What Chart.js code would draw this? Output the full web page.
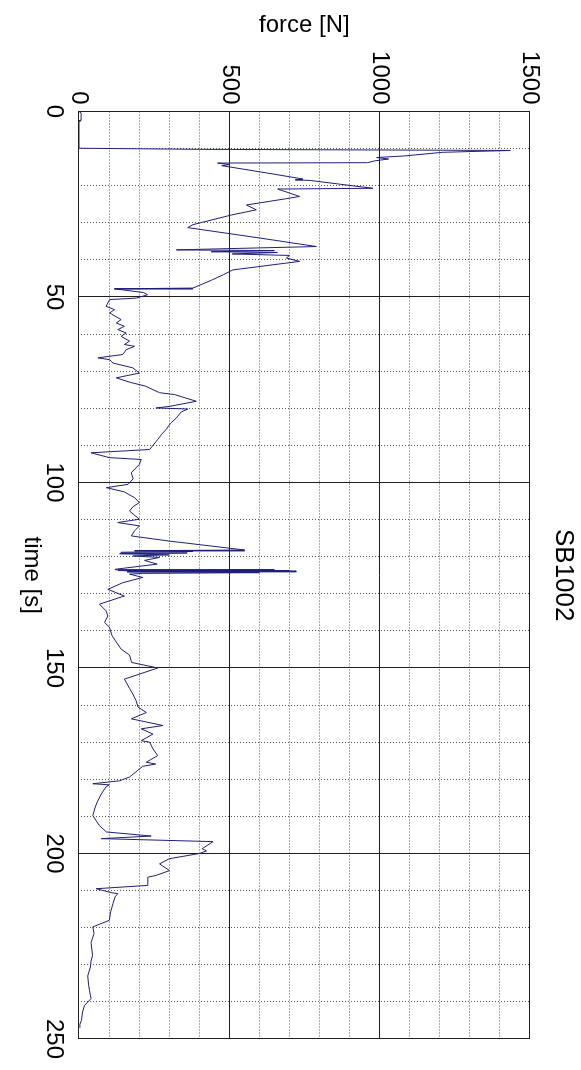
<!DOCTYPE html>
<html>
<head>
<meta charset="utf-8">
<script src="https://cdn.jsdelivr.net/npm/chart.js@4.4.1/dist/chart.umd.min.js"></script>
<style>
  html, body { margin: 0; padding: 0; background: #fff; overflow: hidden; }
  body { width: 581px; height: 1070px; position: relative; }
  /* the plot is laid out landscape and turned a quarter clockwise */
  #sheet {
    position: absolute; left: 0; top: 0;
    width: 1070px; height: 581px;
    transform-origin: 0 0;
    transform: translateX(581px) rotate(90deg);
  }
</style>
</head>
<body>
<div id="sheet"><canvas id="forceChart" width="1070" height="581"></canvas></div>
<script>
const time = [
    0, 0.4, 2.3, 2.5, 9.9, 10.2, 10.5, 11.0, 12.0, 12.4, 12.8, 13.3, 13.8, 13.9, 14.3, 14.6,
    16.5, 18.2, 18.4, 18.6, 20.7, 20.9, 22.9, 23.5, 25.2, 26.5, 27.9, 30.5, 31.3, 34.1,
    36.4, 37.3, 37.5, 37.8, 38.0, 38.4, 38.8, 39.5, 40.4, 42.7, 44, 45.5, 47.6, 47.8,
    48.8, 49.4, 50.3, 50.7, 52.5, 53.4, 54.3, 56.1, 57, 57.9, 58.8, 59.7, 60.6, 61.9,
    62.8, 63.3, 64.2, 65.5, 66.4, 66.9, 67.8, 69.1, 70.5, 71.8, 73, 74, 75.8, 76.3,
    78.1, 79.5, 79.9, 80.2, 81, 82.6, 84, 85.7, 87, 88.4, 91.1, 92, 93.3, 93.8, 95.1,
    97.4, 99, 100.5, 101.4, 102.5, 104.1, 105.4, 106.5, 107.7, 109.9, 110.8, 111.7,
    113, 114.4, 115.8, 118.2, 118.4, 118.6, 118.8, 119.0, 119.2, 119.5, 119.8, 120.2,
    121, 122, 123.4, 123.5, 123.6, 123.7, 123.8, 123.9, 124.0, 124.1, 124.3, 124.5,
    124.7, 125.6, 127, 128.8, 130.6, 132.8, 134.6, 136, 137.7, 139, 141.3, 143, 144.9,
    146.5, 148.5, 150, 153, 154.3, 155.5, 157, 158.8, 160.5, 162, 163.7, 165.5, 166.4,
    167.8, 169.6, 170, 171.8, 173.6, 175.4, 175.9, 176.5, 179.4, 180.4, 181.2, 181.5,
    181.9, 184, 186.2, 188, 189.8, 192.5, 194.2, 195.3, 196, 196.8, 198.7, 199.3, 200,
    201.4, 202.8, 204.6, 205.9, 206.4, 208.6, 209.5, 210.6, 210.8, 211.7, 213.5, 215.8,
    218, 219.8, 221.6, 224, 227.5, 229, 230.6, 233, 235.5, 237, 239.1, 241, 242.7, 245,
    246, 247, 250
];
const force = [
    0, 7, 7, 0, 0, 400, 1435, 1210, 1080, 990, 1030, 985, 960, 461, 500, 475,
    620, 745, 720, 770, 978, 661, 734, 690, 557, 590, 507, 379, 362, 601,
    790, 324, 650, 440, 660, 510, 700, 690, 734, 512, 480, 440, 379, 118,
    215, 228, 190, 102, 90, 118, 102, 140, 124, 151, 129, 157, 140, 168,
    151, 185, 157, 146, 63, 102, 113, 179, 201, 124, 170, 220, 268, 318,
    390, 300, 257, 362, 340, 324, 305, 290, 275, 262, 235, 40, 101, 207, 201,
    174, 180, 163, 91, 150, 185, 201, 180, 168, 201, 129, 201,
    185, 174, 301, 551, 185, 379, 140, 360, 135, 300, 180, 268,
    218, 260, 120, 650, 130, 700, 150, 723, 500, 160, 600,
    212, 168, 212, 146, 96, 151, 68, 90, 96, 85, 101, 110, 124,
    140, 168, 175, 262, 151, 160, 168, 179, 190, 196, 224, 174, 279,
    207, 246, 207, 235, 246, 262, 224, 255, 212, 168, 135, 46,
    101, 91, 74, 60, 52, 46, 68, 91, 240, 74, 446, 410, 424,
    401, 301, 268, 301, 257, 229, 229, 57, 110, 129, 120, 113,
    105, 101, 46, 50, 40, 45, 40, 38, 29, 32, 35, 40, 18, 12,
    8, 3, 3
];
const timeTicks = [0, 50, 100, 150, 200, 250];
const forceTicks = [0, 500, 1000, 1500];

const ink = '#1e1e1e';
const dots = '#555555';
const trace = '#1f1f7a';
const face = 'Liberation Sans, Arial, sans-serif';
const clear = 'rgba(0,0,0,0)';

// dotted minor lines everywhere except where a solid major line sits
const minorGrid = major => ctx => (ctx.tick && ctx.tick.value % major !== 0) ? dots : clear;

new Chart(document.getElementById('forceChart'), {
    type: 'line',
    data: {
        datasets: [{
            data: time.map((t, i) => ({ x: t, y: force[i] })),
            borderColor: trace,
            borderWidth: 1,
            pointRadius: 0,
            tension: 0,
            xAxisID: 'x',
            yAxisID: 'y',
        }],
    },
    options: {
        responsive: false,
        animation: false,
        layout: { padding: 0 },
        plugins: {
            legend: { display: false },
            tooltip: { enabled: false },
            title: {
                display: true,
                text: 'SB1002',
                fullSize: false,
                color: '#000',
                font: { family: face, size: 26, weight: 'normal' },
                padding: { top: 2, bottom: 18 },
            },
        },
        scales: {
            x: {
                type: 'linear',
                position: 'bottom',
                min: 0,
                max: 250,
                afterBuildTicks: s => { s.ticks = timeTicks.map(value => ({ value })); },
                afterFit: s => { s.height = 79; },
                grid: { color: ink, drawTicks: false },
                border: { color: ink },
                ticks: { color: '#000', padding: 11, maxRotation: 0, autoSkip: false, font: { family: face, size: 24 }, callback: v => String(v) },
                title: { display: true, text: 'time [s]', color: '#000', font: { family: face, size: 24 }, padding: { top: 0, bottom: 17 } },
            },
            xMinor: {
                type: 'linear',
                position: 'top',
                min: 0,
                max: 250,
                afterFit: s => { s.height = 0; },
                ticks: { display: false, stepSize: 10 },
                grid: { color: minorGrid(50), drawTicks: false },
                border: { color: ink, dash: [1, 2] },
            },
            y: {
                type: 'linear',
                position: 'left',
                min: 0,
                max: 1500,
                afterBuildTicks: s => { s.ticks = forceTicks.map(value => ({ value })); },
                afterFit: s => { s.width = 111.5; },
                grid: { color: ink, drawTicks: false },
                border: { color: ink },
                ticks: { color: '#000', padding: 7, font: { family: face, size: 24 }, callback: v => String(v) },
                title: { display: true, text: 'force [N]', color: '#000', font: { family: face, size: 24 }, padding: { top: 11, bottom: 0 } },
            },
            yMinor: {
                type: 'linear',
                position: 'right',
                min: 0,
                max: 1500,
                afterFit: s => { s.width = 30; },
                ticks: { display: false, stepSize: 100 },
                grid: { color: minorGrid(500), drawTicks: false },
                border: { color: ink, dash: [1, 2] },
            },
        },
    },
});
</script>
</body>
</html>
